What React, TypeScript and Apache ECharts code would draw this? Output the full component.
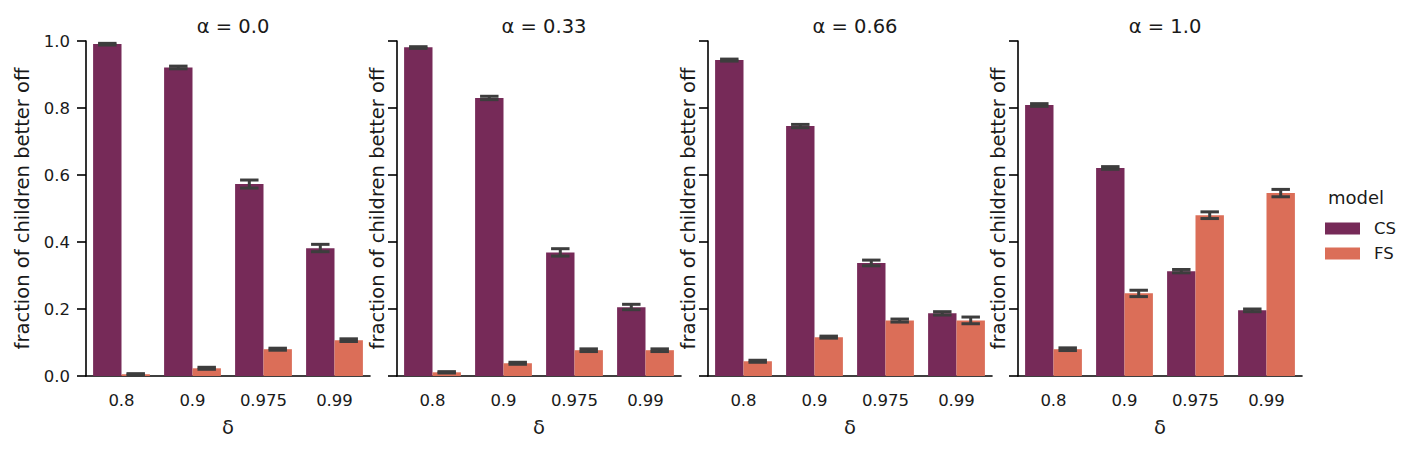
import React, { useEffect, useRef } from "react";
import * as echarts from "echarts";

const alphaLabels = ["α = 0.0", "α = 0.33", "α = 0.66", "α = 1.0"];
const deltaLabels = ["0.8", "0.9", "0.975", "0.99"];
const models = ["CS", "FS"];

const csValues = [
  [0.991, 0.921, 0.573, 0.381],
  [0.981, 0.830, 0.369, 0.205],
  [0.943, 0.746, 0.337, 0.187],
  [0.809, 0.621, 0.313, 0.196],
];
const csLow = [
  [0.988, 0.917, 0.561, 0.371],
  [0.978, 0.825, 0.358, 0.198],
  [0.940, 0.741, 0.329, 0.182],
  [0.805, 0.617, 0.308, 0.192],
];
const csHigh = [
  [0.993, 0.925, 0.585, 0.393],
  [0.983, 0.835, 0.380, 0.214],
  [0.946, 0.751, 0.346, 0.192],
  [0.813, 0.625, 0.318, 0.200],
];
const fsValues = [
  [0.005, 0.023, 0.080, 0.107],
  [0.011, 0.038, 0.077, 0.077],
  [0.044, 0.116, 0.166, 0.166],
  [0.080, 0.247, 0.480, 0.546],
];
const fsLow = [
  [0.003, 0.020, 0.077, 0.103],
  [0.009, 0.035, 0.073, 0.073],
  [0.041, 0.113, 0.161, 0.156],
  [0.076, 0.237, 0.470, 0.535],
];
const fsHigh = [
  [0.007, 0.026, 0.083, 0.111],
  [0.013, 0.041, 0.081, 0.081],
  [0.047, 0.119, 0.170, 0.176],
  [0.084, 0.256, 0.490, 0.557],
];

const COLORS = { CS: "#762a58", FS: "#db6e58" };
const FONT = "DejaVu Sans";
const GRID_LEFTS = [86, 397, 708, 1018];
const GRID_TOP = 41;
const GRID_W = 284;
const GRID_H = 335;

function errRender(sign: number) {
  return (params: any, api: any) => {
    const idx = api.value(0);
    const lo = api.value(1);
    const hi = api.value(2);
    const band = api.size([1, 0])[0];
    const pLo = api.coord([idx, lo]);
    const pHi = api.coord([idx, hi]);
    const cx = pLo[0] + sign * band * 0.2;
    const hw = band * 0.13;
    const style = { stroke: "#3d3d3d", lineWidth: 3 };
    return {
      type: "group",
      children: [
        { type: "line", shape: { x1: cx, y1: pLo[1], x2: cx, y2: pHi[1] }, style },
        { type: "line", shape: { x1: cx - hw, y1: pLo[1], x2: cx + hw, y2: pLo[1] }, style },
        { type: "line", shape: { x1: cx - hw, y1: pHi[1], x2: cx + hw, y2: pHi[1] }, style },
      ],
    };
  };
}

export default function App() {
  const ref = useRef<HTMLDivElement>(null);
  useEffect(() => {
    if (!ref.current) return;
    const chart = echarts.init(ref.current, undefined, { renderer: "svg" });
    const grids: any[] = [];
    const xAxes: any[] = [];
    const yAxes: any[] = [];
    const series: any[] = [];
    const titles: any[] = [];
    for (let p = 0; p < 4; p++) {
      grids.push({ left: GRID_LEFTS[p], top: GRID_TOP, width: GRID_W, height: GRID_H, containLabel: false });
      titles.push({
        text: alphaLabels[p],
        left: GRID_LEFTS[p] + GRID_W / 2,
        top: 11,
        textAlign: "center",
        textStyle: { fontFamily: FONT, fontSize: 19.5, fontWeight: "normal", color: "#1a1a1a" },
      });
      xAxes.push({
        type: "category",
        gridIndex: p,
        data: deltaLabels,
        name: "δ",
        nameLocation: "middle",
        nameGap: 41,
        nameTextStyle: { fontFamily: FONT, fontSize: 19.5, color: "#1a1a1a" },
        axisLine: { lineStyle: { color: "#000", width: 1.6 } },
        axisTick: { alignWithLabel: true, length: 9, lineStyle: { color: "#000", width: 1.6 } },
        axisLabel: { fontFamily: FONT, fontSize: 16.5, color: "#1a1a1a", margin: 16 },
        splitLine: { show: false },
      });
      yAxes.push({
        type: "value",
        gridIndex: p,
        min: 0,
        max: 1,
        interval: 0.2,
        name: "fraction of children better off",
        nameLocation: "middle",
        nameGap: p === 0 ? 54 : 10,
        nameTextStyle: { fontFamily: FONT, fontSize: 19.5, color: "#1a1a1a" },
        axisLine: { show: true, lineStyle: { color: "#000", width: 1.6 } },
        axisTick: { show: true, length: 9, lineStyle: { color: "#000", width: 1.6 } },
        axisLabel: {
          show: p === 0,
          fontFamily: FONT,
          fontSize: 16.5,
          color: "#1a1a1a",
          margin: 16,
          formatter: (v: number) => v.toFixed(1),
        },
        splitLine: { show: false },
      });
      series.push({
        name: "CS",
        type: "bar",
        xAxisIndex: p,
        yAxisIndex: p,
        data: csValues[p],
        itemStyle: { color: COLORS.CS },
        barGap: "0%",
        barCategoryGap: "20%",
      });
      series.push({
        name: "FS",
        type: "bar",
        xAxisIndex: p,
        yAxisIndex: p,
        data: fsValues[p],
        itemStyle: { color: COLORS.FS },
        barGap: "0%",
        barCategoryGap: "20%",
      });
      series.push({
        type: "custom",
        xAxisIndex: p,
        yAxisIndex: p,
        z: 5,
        renderItem: errRender(-1),
        data: deltaLabels.map((_, i) => [i, csLow[p][i], csHigh[p][i]]),
      });
      series.push({
        type: "custom",
        xAxisIndex: p,
        yAxisIndex: p,
        z: 5,
        renderItem: errRender(1),
        data: deltaLabels.map((_, i) => [i, fsLow[p][i], fsHigh[p][i]]),
      });
    }
    chart.setOption({
      animation: false,
      backgroundColor: "#ffffff",
      title: titles,
      grid: grids,
      xAxis: xAxes,
      yAxis: yAxes,
      series,
      legend: {
        data: models,
        orient: "vertical",
        left: 1320,
        top: 215,
        itemWidth: 35,
        itemHeight: 12,
        itemGap: 8,
        icon: "rect",
        textStyle: { fontFamily: FONT, fontSize: 16.5, color: "#1a1a1a", padding: [0, 0, 0, 9] },
      },
      graphic: [
        {
          type: "text",
          left: 1328,
          top: 188,
          style: { text: "model", fontFamily: FONT, fontSize: 18, fill: "#1a1a1a" },
        },
      ],
    });
    return () => chart.dispose();
  }, []);
  return <div ref={ref} style={{ position: "fixed", left: 0, top: 0, width: 1408, height: 452 }} />;
}
